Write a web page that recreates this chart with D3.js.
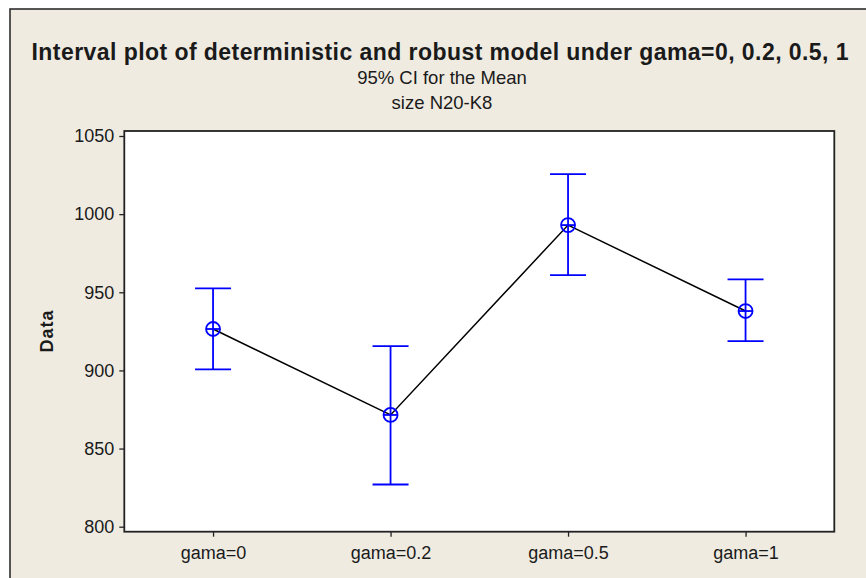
<!DOCTYPE html>
<html>
<head>
<meta charset="utf-8">
<script src="https://cdn.jsdelivr.net/npm/d3@7"></script>
<style>
  html, body { margin: 0; padding: 0; background: #ffffff; }
  svg { display: block; }
  text { font-family: "Liberation Sans", Arial, sans-serif; fill: #1a1a1a; }
</style>
</head>
<body>
<svg id="chart" width="866" height="578"></svg>
<script>
// ---- data ----
const categories = ["gama=0", "gama=0.2", "gama=0.5", "gama=1"];
const means = [926.5, 871.5, 993, 938];
const lowerCI = [900.7, 827, 961, 918.8];
const upperCI = [952.5, 915.5, 1025.6, 958.3];
const yTicks = [800, 850, 900, 950, 1000, 1050];
const titleText = "Interval plot of deterministic and robust model under gama=0, 0.2, 0.5, 1";
const subtitles = ["95% CI for the Mean", "size N20-K8"];
const yLabel = "Data";

const svg = d3.select("#chart");
const W = 866, H = 578;
const plot = { left: 124.3, top: 131, right: 834.3, bottom: 531.7 };

// outer figure background with top/left border
svg.append("rect").attr("x", 10).attr("y", 9).attr("width", W - 10).attr("height", H - 9)
  .attr("fill", "#EFEBE1");
svg.append("path").attr("d", `M10,${H} L10,9 L${W},9`).attr("fill", "none")
  .attr("stroke", "#222").attr("stroke-width", 1.5);

// scales
const x = d3.scalePoint().domain(categories).range([plot.left, plot.right]).padding(0.5);
const y = d3.scaleLinear().domain([796.8, 1053.2]).range([plot.bottom, plot.top]);

// plot area
svg.append("rect").attr("x", plot.left).attr("y", plot.top)
  .attr("width", plot.right - plot.left).attr("height", plot.bottom - plot.top)
  .attr("fill", "#ffffff");

// axes
const yAxis = d3.axisLeft(y).tickValues(yTicks).tickSize(5).tickPadding(5).tickFormat(d3.format("d"));
const gy = svg.append("g").attr("transform", `translate(${plot.left},0)`).call(yAxis);
gy.select(".domain").remove();
gy.selectAll(".tick line").attr("stroke", "#222").attr("stroke-width", 1.3);
gy.selectAll(".tick text").attr("font-size", 18).attr("fill", "#1a1a1a")
  .style("font-family", "'Liberation Sans', Arial, sans-serif");

const xAxis = d3.axisBottom(x).tickSize(5).tickPadding(10);
const gx = svg.append("g").attr("transform", `translate(0,${plot.bottom})`).call(xAxis);
gx.select(".domain").remove();
gx.selectAll(".tick line").attr("stroke", "#222").attr("stroke-width", 1.3);
gx.selectAll(".tick text").attr("font-size", 18).attr("fill", "#1a1a1a")
  .style("font-family", "'Liberation Sans', Arial, sans-serif");

// frame
svg.append("rect").attr("x", plot.left).attr("y", plot.top)
  .attr("width", plot.right - plot.left).attr("height", plot.bottom - plot.top)
  .attr("fill", "none").attr("stroke", "#222").attr("stroke-width", 1.8);

// connect line of means
const line = d3.line().x((d, i) => x(categories[i])).y(d => y(d));
svg.append("path").datum(means).attr("d", line)
  .attr("fill", "none").attr("stroke", "#000").attr("stroke-width", 1.5);

// intervals
const blue = "#0000FF";
const capHalf = 18;
const g = svg.append("g").attr("stroke", blue).attr("stroke-width", 1.8).attr("fill", "none");
categories.forEach((c, i) => {
  const cx = x(c);
  g.append("line").attr("x1", cx).attr("x2", cx).attr("y1", y(upperCI[i])).attr("y2", y(lowerCI[i]));
  g.append("line").attr("x1", cx - capHalf).attr("x2", cx + capHalf).attr("y1", y(upperCI[i])).attr("y2", y(upperCI[i]));
  g.append("line").attr("x1", cx - capHalf).attr("x2", cx + capHalf).attr("y1", y(lowerCI[i])).attr("y2", y(lowerCI[i]));
  const cy = y(means[i]);
  g.append("circle").attr("cx", cx).attr("cy", cy).attr("r", 7);
  g.append("line").attr("x1", cx - 7).attr("x2", cx + 7).attr("y1", cy).attr("y2", cy);
});

// titles
svg.append("text").attr("x", 440).attr("y", 60).attr("text-anchor", "middle")
  .attr("font-size", 23).attr("font-weight", "bold")
  .attr("textLength", 817).attr("lengthAdjust", "spacing").text(titleText);
subtitles.forEach((s, i) => {
  svg.append("text").attr("x", 442).attr("y", 84 + i * 25).attr("text-anchor", "middle")
    .attr("font-size", 18.5).text(s);
});

// y label
svg.append("text").attr("transform", `translate(53,331) rotate(-90)`)
  .attr("text-anchor", "middle").attr("font-size", 18).attr("font-weight", "bold")
  .attr("letter-spacing", 1).text(yLabel);
</script>
</body>
</html>
